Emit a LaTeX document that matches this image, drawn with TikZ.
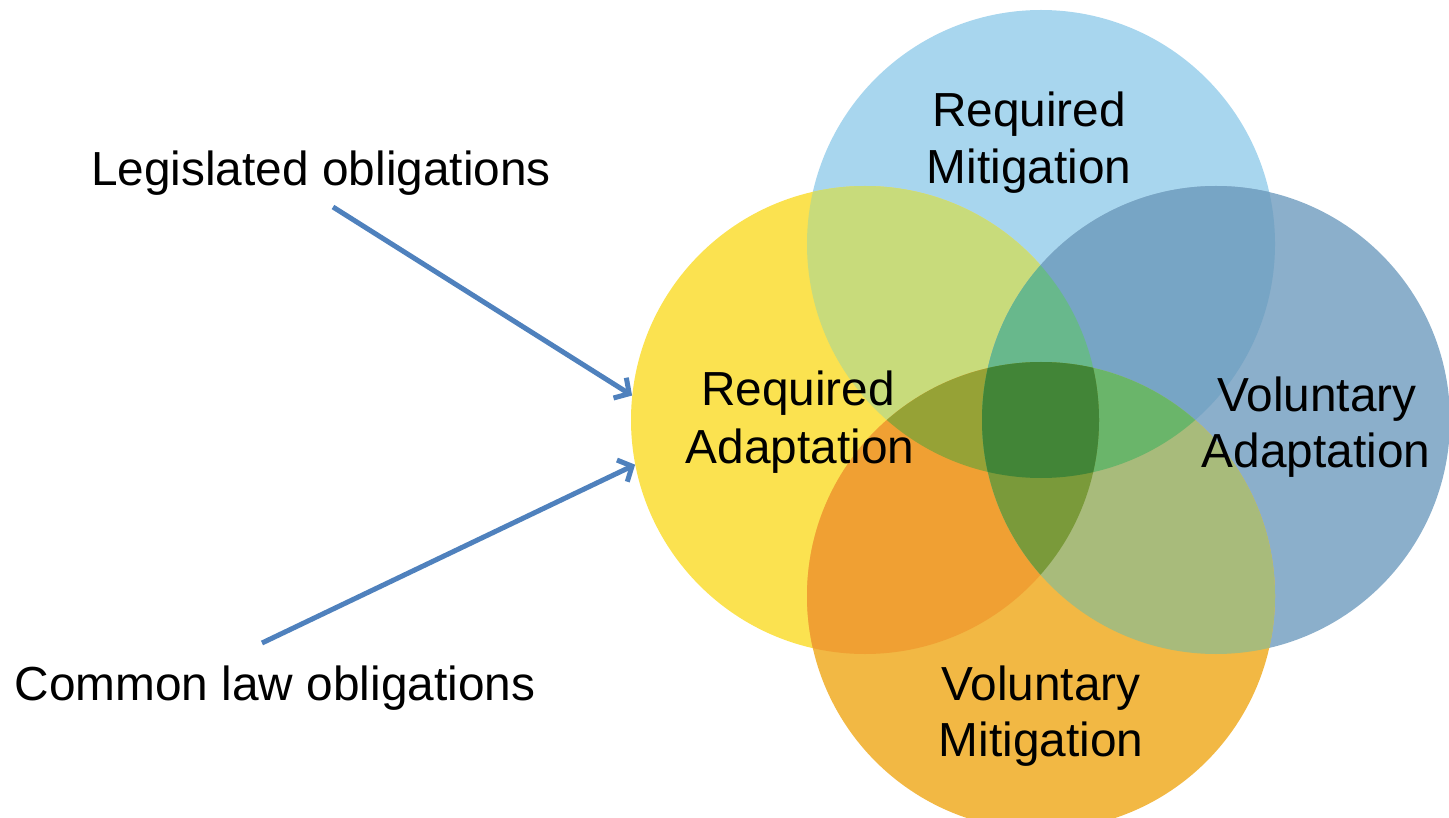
\documentclass[tikz,border=0pt]{standalone}
\usepackage{fontspec}
\setmainfont{Liberation Sans}
\usetikzlibrary{arrows.meta}
\definecolor{colT}{HTML}{A8D6EE}
\definecolor{colL}{HTML}{FBE250}
\definecolor{colR}{HTML}{8BAFCB}
\definecolor{colB}{HTML}{F2B844}
\definecolor{colTL}{HTML}{C8DB7B}
\definecolor{colTR}{HTML}{77A5C5}
\definecolor{colLB}{HTML}{F0A033}
\definecolor{colRB}{HTML}{A8BB7B}
\definecolor{colTLB}{HTML}{96A236}
\definecolor{colTLR}{HTML}{68B88C}
\definecolor{colTRB}{HTML}{6AB56A}
\definecolor{colLRB}{HTML}{7A9A3A}
\definecolor{colAll}{HTML}{428537}
\definecolor{arrowblue}{HTML}{4F81BD}
\begin{document}
\begin{tikzpicture}[x=1pt,y=-1pt,
  lbl/.style={font=\fontsize{47.8}{57}\selectfont, anchor=base, inner sep=0pt},
  ring/.style={circle, minimum size=468pt, inner sep=0pt},
  conn/.style={draw=arrowblue, line width=5pt, -{Straight Barb[length=11pt,width=24pt]}}]
\useasboundingbox (0,0) rectangle (1449,818);
\def\pT{(1041,244) circle[radius=234]}
\def\pL{(865,420) circle[radius=234]}
\def\pR{(1216,420) circle[radius=234]}
\def\pB{(1041,596) circle[radius=234]}
% circle nodes (for connector ends)
\node[ring] (cirT) at (1041,244) {};
\node[ring] (cirL) at (865,420) {};
\node[ring] (cirR) at (1216,420) {};
\node[ring] (cirB) at (1041,596) {};
% single circles
\fill[colT] \pT;
\fill[colL] \pL;
\fill[colR] \pR;
\fill[colB] \pB;
% pairs
\begin{scope}\clip \pT; \fill[colTL] \pL; \end{scope}
\begin{scope}\clip \pT; \fill[colTR] \pR; \end{scope}
\begin{scope}\clip \pL; \fill[colLB] \pB; \end{scope}
\begin{scope}\clip \pR; \fill[colRB] \pB; \end{scope}
% triples
\begin{scope}\clip \pT; \clip \pL; \fill[colTLB] \pB; \end{scope}
\begin{scope}\clip \pT; \clip \pL; \fill[colTLR] \pR; \end{scope}
\begin{scope}\clip \pT; \clip \pR; \fill[colTRB] \pB; \end{scope}
\begin{scope}\clip \pL; \clip \pR; \fill[colLRB] \pB; \end{scope}
% all four
\begin{scope}\clip \pT; \clip \pL; \clip \pR; \fill[colAll] \pB; \end{scope}
% labels
\node[lbl] (rmA) at (1029,127) {Required};
\node[lbl] (rmB) at (1029,184) {Mitigation};
\node[lbl] (raA) at (798,406) {Required};
\node[lbl] (raB) at (800,463) {Adaptation};
\node[lbl] (vaA) at (1317,411) {Voluntary};
\node[lbl] (vaB) at (1316,467) {Adaptation};
\node[lbl] (vmA) at (1041,700) {Voluntary};
\node[lbl] (vmB) at (1041,756) {Mitigation};
\node[lbl] (leg) at (321,186) {Legislated obligations};
\node[lbl] (com) at (275,700) {Common law obligations};
% connectors
\coordinate (legStart) at (333,207);
\coordinate (comStart) at (262,643);
\draw[conn] (legStart) -- (cirL.174.75);
\draw[conn] (comStart) -- (cirL.191.5);
\end{tikzpicture}
\end{document}
